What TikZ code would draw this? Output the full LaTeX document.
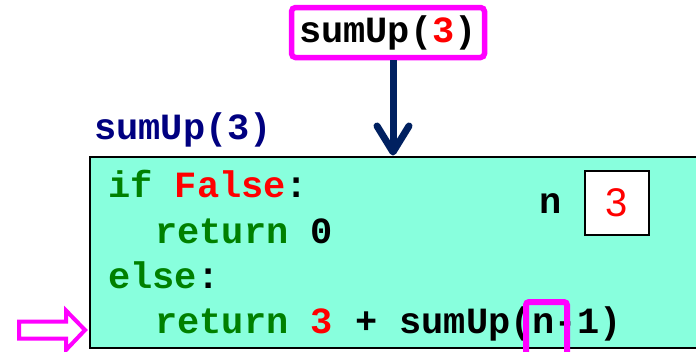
\documentclass[tikz,border=0pt]{standalone}
\usepackage{fontspec}
\setmainfont{Liberation Sans}
\newfontfamily\codefont{Liberation Mono}
\usetikzlibrary{arrows.meta}
\definecolor{framefill}{HTML}{88FFDD}
\definecolor{kwgreen}{HTML}{008000}
\definecolor{litred}{HTML}{FF0000}
\definecolor{hilite}{HTML}{FF00FF}
\definecolor{callnavy}{HTML}{002060}
\definecolor{labelnavy}{HTML}{000080}
\newcommand{\kw}[1]{\textcolor{kwgreen}{#1}}
\newcommand{\lit}[1]{\textcolor{litred}{#1}}
\begin{document}
\begin{tikzpicture}[x=1pt,y=-1pt,
  code/.style={inner sep=0pt, anchor=base west,
    font=\codefont\bfseries\fontsize{37}{40}\selectfont},
  framebox/.style={draw=black, line width=2.5pt, fill=framefill,
    minimum width=609pt, minimum height=191pt, anchor=north west, inner sep=0pt},
  valbox/.style={draw=black, line width=2pt, fill=white,
    minimum width=64pt, minimum height=64pt, inner sep=0pt,
    font=\fontsize{40}{42}\selectfont, text=litred},
  callbox/.style={draw=hilite, line width=5.5pt, rounded corners=4pt, fill=white,
    minimum width=193pt, minimum height=50pt, inner sep=0pt,
    font=\codefont\bfseries\fontsize{37}{40}\selectfont},
  markbox/.style={draw=hilite, line width=6pt, rounded corners=3pt,
    minimum width=41pt, minimum height=56pt, inner sep=0pt},
  callarrow/.style={draw=callnavy, line width=7pt,
    -{Straight Barb[length=26pt,width=32pt,line cap=round,round]}},
  pointer/.style={draw=hilite, line width=4pt, fill=white, miter limit=10}
]
\useasboundingbox (0,0) rectangle (696,351);

% the frame of the call sumUp(3)
\node[framebox] (frame) at (88.5,155.5) {};

% code inside the frame
\node[code] (l1) at (108,197) {\kw{if} \lit{False}:};
\node[code] (l2) at (155,243) {\kw{return} 0};
\node[code] (l3) at (108,288) {\kw{else}:};
\node[code] (l4) at (155,333) {\kw{return} \lit{3} + sumUp(n-1)};

% local variable n
\node[code, anchor=base] (nname) at (551,213) {n};
\node[valbox] (nval) at (617,203) {3};

% frame title
\node[code, text=labelnavy, anchor=base west] (title) at (94,139) {sumUp(3)};

% the call being made
\node[callbox] (call) at (388,32.5) {\raisebox{-0.5ex}{sumUp(\lit{3})}};
\draw[callarrow] ([xshift=5pt]call.south) -- ([xshift=5pt]call.south |- frame.north);

% highlight around the argument being evaluated
\node[markbox] (argmark) at (546.5,330) {};

% current-line pointer
\draw[pointer] (19,321.5) -- (66,321.5) -- (66,310.5) -- (85,330) -- (66,350)
  -- (66,338.5) -- (19,338.5) -- cycle;
\end{tikzpicture}
\end{document}
